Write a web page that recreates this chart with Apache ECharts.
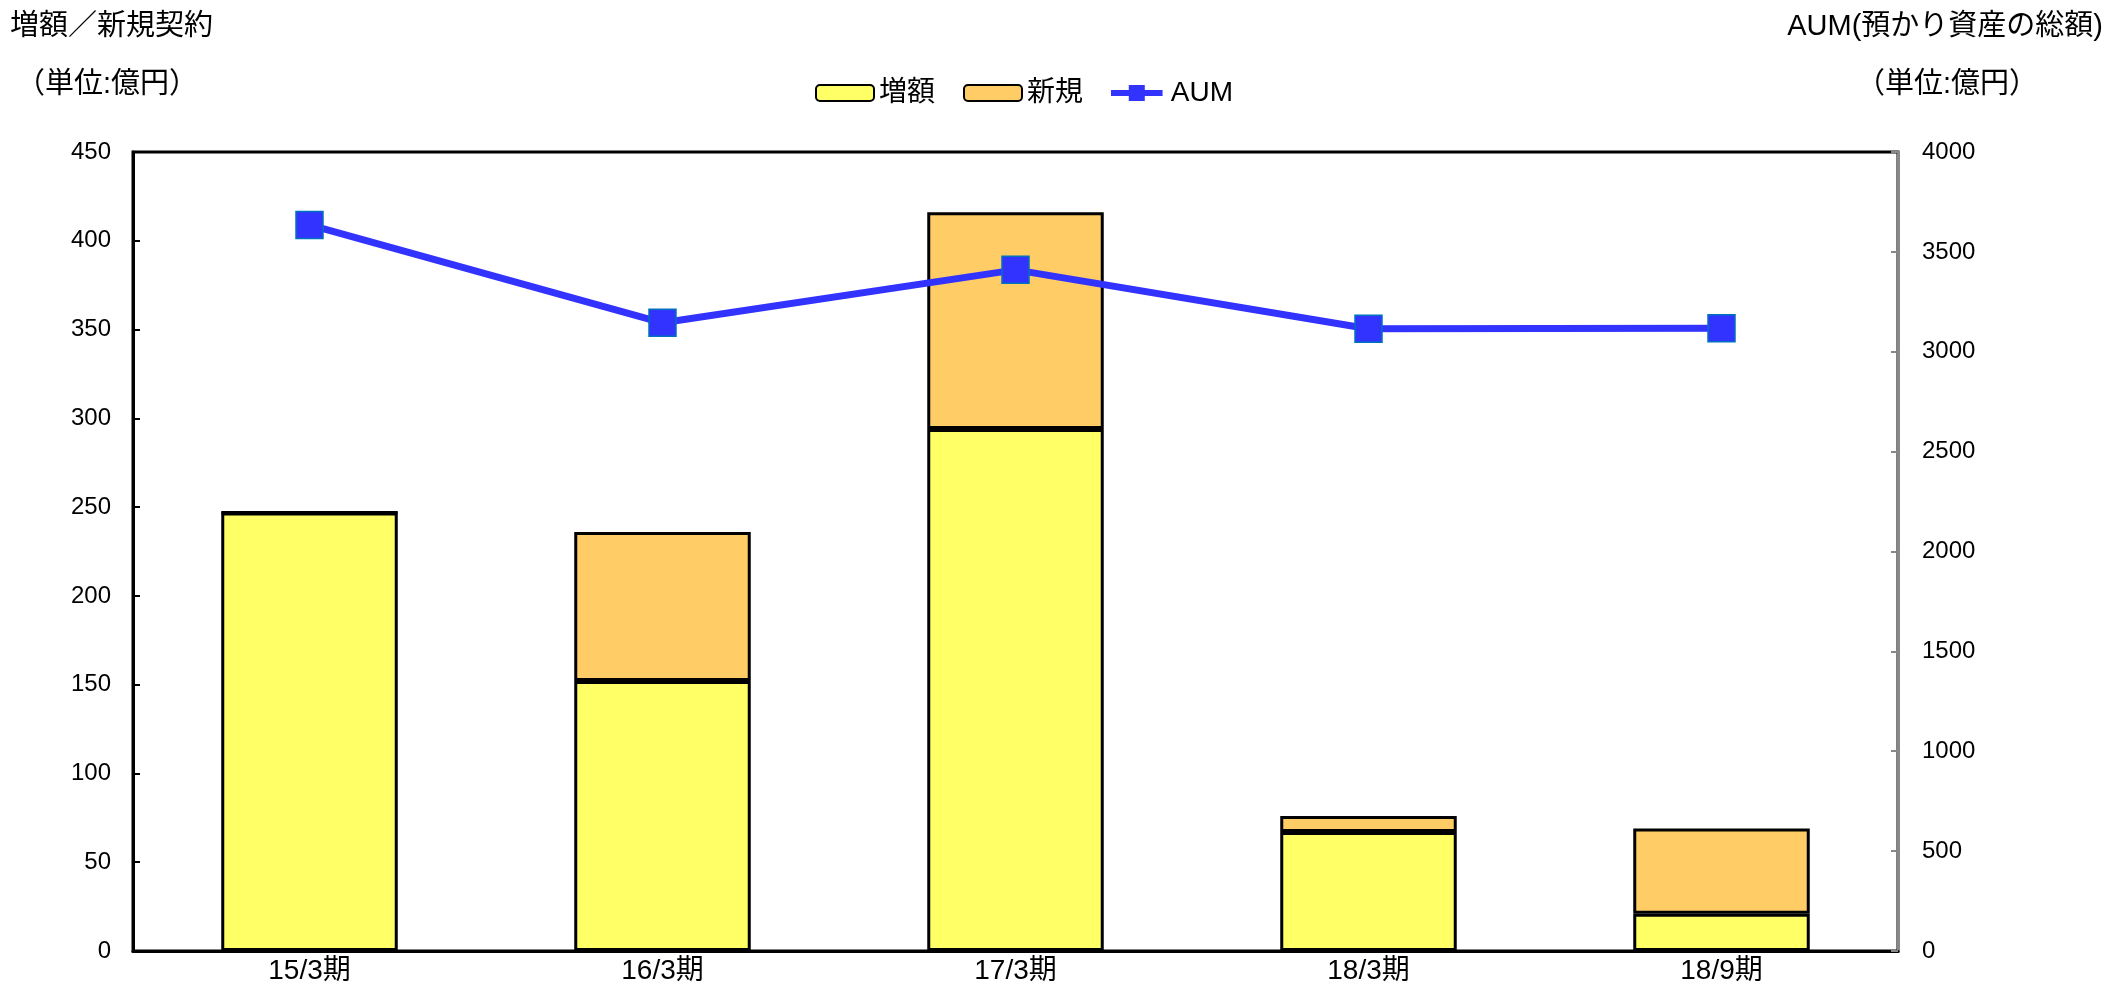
<!DOCTYPE html>
<html>
<head>
<meta charset="utf-8">
<script src="https://cdn.jsdelivr.net/npm/echarts@6/dist/echarts.min.js"></script>
<style>
html,body{margin:0;padding:0;background:#fff;}
#c{width:2112px;height:985px;}
</style>
</head>
<body>
<div id="c"></div>
<script>
const categories = ['15/3期', '16/3期', '17/3期', '18/3期', '18/9期'];
const zougaku = [247, 152, 294, 67, 21];
const shinki = [0, 84, 122, 9, 48];
const aum = [3635, 3145, 3410, 3115, 3118];
const leftTicks = {min: 0, max: 450, interval: 50};
const rightTicks = {min: 0, max: 4000, interval: 500};

const FONT = "'Liberation Sans', 'Noto Sans CJK JP', sans-serif";
const ts = (size) => ({fontSize: size, fontWeight: 'normal', color: '#000', fontFamily: FONT});
const chart = echarts.init(document.getElementById('c'));
chart.setOption({
  animation: false,
  backgroundColor: '#fff',
  textStyle: {fontFamily: FONT, color: '#000'},
  title: [
    {text: '増額／新規契約', left: 10, top: 12, padding: 0, textStyle: ts(29)},
    {text: '（単位:億円）', left: 16, top: 70, padding: 0, textStyle: ts(29)},
    {text: 'AUM(預かり資産の総額)', right: 9, top: 12, padding: 0, textStyle: ts(29)},
    {text: '（単位:億円）', right: 74, top: 70, padding: 0, textStyle: ts(29)}
  ],
  legend: {
    data: [
      '増額', '新規',
      {name: 'AUM', icon: 'path://M0,5.5L58,5.5L58,12.5L0,12.5Z M20,0L38,0L38,18L20,18Z', itemStyle: {borderWidth: 0}}
    ],
    left: 810, top: 74,
    itemWidth: 58, itemHeight: 16, itemGap: 28,
    textStyle: {fontSize: 28, color: '#000', fontFamily: FONT}
  },
  grid: {
    left: 133, right: 214, top: 152, bottom: 34,
    show: true, borderColor: '#000', borderWidth: 3, backgroundColor: 'transparent',
    containLabel: false
  },
  xAxis: {
    type: 'category',
    data: categories,
    axisLine: {show: true, lineStyle: {color: '#000', width: 3}},
    axisTick: {show: false},
    axisLabel: {fontSize: 28, color: '#000', margin: 6, fontFamily: FONT}
  },
  yAxis: [
    {
      type: 'value', min: leftTicks.min, max: leftTicks.max, interval: leftTicks.interval,
      axisLine: {show: true, lineStyle: {color: '#000', width: 3}},
      axisTick: {show: true, inside: true, length: 7, lineStyle: {color: '#000', width: 2}},
      splitLine: {show: false},
      axisLabel: {fontSize: 24, color: '#000', margin: 22, fontFamily: FONT, formatter: (v) => String(v)}
    },
    {
      type: 'value', position: 'right', min: rightTicks.min, max: rightTicks.max, interval: rightTicks.interval,
      axisLine: {show: true, lineStyle: {color: '#888', width: 3}},
      axisTick: {show: true, inside: true, length: 7, lineStyle: {color: '#888', width: 2}},
      splitLine: {show: false},
      axisLabel: {fontSize: 24, color: '#000', margin: 24, fontFamily: FONT, formatter: (v) => String(v)}
    }
  ],
  series: [
    {
      name: '増額', type: 'bar', stack: 'total', data: zougaku, barWidth: '50%',
      itemStyle: {color: '#FFFF66', borderColor: '#000', borderWidth: 3}
    },
    {
      name: '新規', type: 'bar', stack: 'total', data: shinki, barWidth: '50%',
      itemStyle: {color: '#FFCC66', borderColor: '#000', borderWidth: 3}
    },
    {
      name: 'AUM', type: 'line', yAxisIndex: 1, data: aum,
      symbol: 'rect', symbolSize: 27,
      lineStyle: {color: '#3333FF', width: 7},
      itemStyle: {color: '#3333FF', borderColor: '#0070C0', borderWidth: 1.5},
      z: 5
    }
  ]
});
</script>
</body>
</html>
